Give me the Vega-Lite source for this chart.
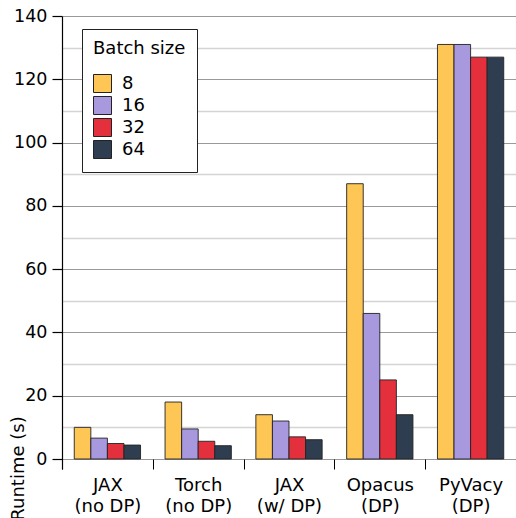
{
  "$schema": "https://vega.github.io/schema/vega-lite/v6.json",
  "autosize": "none",
  "padding": {"left": 62, "top": 16, "right": 0, "bottom": 49},
  "width": 454,
  "height": 453,
  "data": {"values": [
    {"framework": "JAX\n(no DP)", "batch": 8, "runtime": 10.0},
    {"framework": "JAX\n(no DP)", "batch": 16, "runtime": 6.6},
    {"framework": "JAX\n(no DP)", "batch": 32, "runtime": 4.9},
    {"framework": "JAX\n(no DP)", "batch": 64, "runtime": 4.4},
    {"framework": "Torch\n(no DP)", "batch": 8, "runtime": 18.0},
    {"framework": "Torch\n(no DP)", "batch": 16, "runtime": 9.5},
    {"framework": "Torch\n(no DP)", "batch": 32, "runtime": 5.6},
    {"framework": "Torch\n(no DP)", "batch": 64, "runtime": 4.2},
    {"framework": "JAX\n(w/ DP)", "batch": 8, "runtime": 14.0},
    {"framework": "JAX\n(w/ DP)", "batch": 16, "runtime": 12.0},
    {"framework": "JAX\n(w/ DP)", "batch": 32, "runtime": 7.0},
    {"framework": "JAX\n(w/ DP)", "batch": 64, "runtime": 6.1},
    {"framework": "Opacus\n(DP)", "batch": 8, "runtime": 87.0},
    {"framework": "Opacus\n(DP)", "batch": 16, "runtime": 46.0},
    {"framework": "Opacus\n(DP)", "batch": 32, "runtime": 25.0},
    {"framework": "Opacus\n(DP)", "batch": 64, "runtime": 14.0},
    {"framework": "PyVacy\n(DP)", "batch": 8, "runtime": 131.0},
    {"framework": "PyVacy\n(DP)", "batch": 16, "runtime": 131.0},
    {"framework": "PyVacy\n(DP)", "batch": 32, "runtime": 127.0},
    {"framework": "PyVacy\n(DP)", "batch": 64, "runtime": 127.0}
  ]},
  "mark": {"type": "bar", "stroke": "#222222", "strokeWidth": 1, "strokeOpacity": 0.9},
  "encoding": {
    "x": {
      "field": "framework", "type": "nominal", "sort": null,
      "scale": {"paddingInner": 0, "paddingOuter": 0},
      "axis": {
        "title": null, "labelAngle": 0, "domain": false, "offset": -10,
        "tickBand": "extent", "tickSize": 10, "tickColor": "#000000", "tickWidth": 1,
        "labelExpr": "split(datum.label, '\\n')",
        "labelFont": "DejaVu Sans", "labelFontSize": 18, "labelColor": "#000000",
        "labelLineHeight": 21, "labelPadding": 7, "grid": false
      }
    },
    "xOffset": {
      "field": "batch", "type": "ordinal",
      "scale": {"paddingInner": 0, "paddingOuter": 0.74}
    },
    "y": {
      "field": "runtime", "type": "quantitative",
      "scale": {"domain": [-3.16, 140], "nice": false, "zero": false},
      "axis": {
        "title": "Runtime (s)",
        "values": [0, 10, 20, 30, 40, 50, 60, 70, 80, 90, 100, 110, 120, 130, 140],
        "labelExpr": "datum.value % 20 === 0 ? datum.label : ''",
        "grid": true,
        "gridColor": {"condition": {"test": "datum.value % 20 === 0", "value": "#999999"}, "value": "#d4d4d4"},
        "gridWidth": {"condition": {"test": "datum.value % 20 === 0", "value": 1.2}, "value": 1.5},
        "tickOpacity": {"condition": {"test": "datum.value % 20 === 0", "value": 1}, "value": 0},
        "tickSize": 10, "tickColor": "#000000", "tickWidth": 1.2,
        "domainColor": "#000000", "domainWidth": 1.2,
        "labelFont": "DejaVu Sans", "labelFontSize": 17.5, "labelColor": "#000000", "labelPadding": 5,
        "titleFont": "DejaVu Sans", "titleFontSize": 18, "titleFontWeight": "normal", "titleColor": "#000000",
        "titleX": -35, "titleY": 452
      }
    },
    "color": {
      "field": "batch", "type": "ordinal", "title": "Batch size",
      "scale": {"range": ["#FEC655", "#A898DE", "#E4303D", "#2E3E50"]},
      "legend": {
        "orient": "none", "legendX": 20, "legendY": 13,
        "strokeColor": "#222222", "fillColor": "#ffffff", "padding": 11,
        "symbolType": "square", "symbolSize": 324, "symbolStrokeColor": "#222222", "symbolStrokeWidth": 1,
        "titleFont": "DejaVu Sans", "titleFontSize": 18, "titleFontWeight": "normal", "titleColor": "#000000",
        "titlePadding": 16,
        "labelFont": "DejaVu Sans", "labelFontSize": 18, "labelColor": "#000000", "labelOffset": 10,
        "rowPadding": -1
      }
    }
  },
  "config": {"view": {"stroke": null}, "background": "#ffffff"}
}
